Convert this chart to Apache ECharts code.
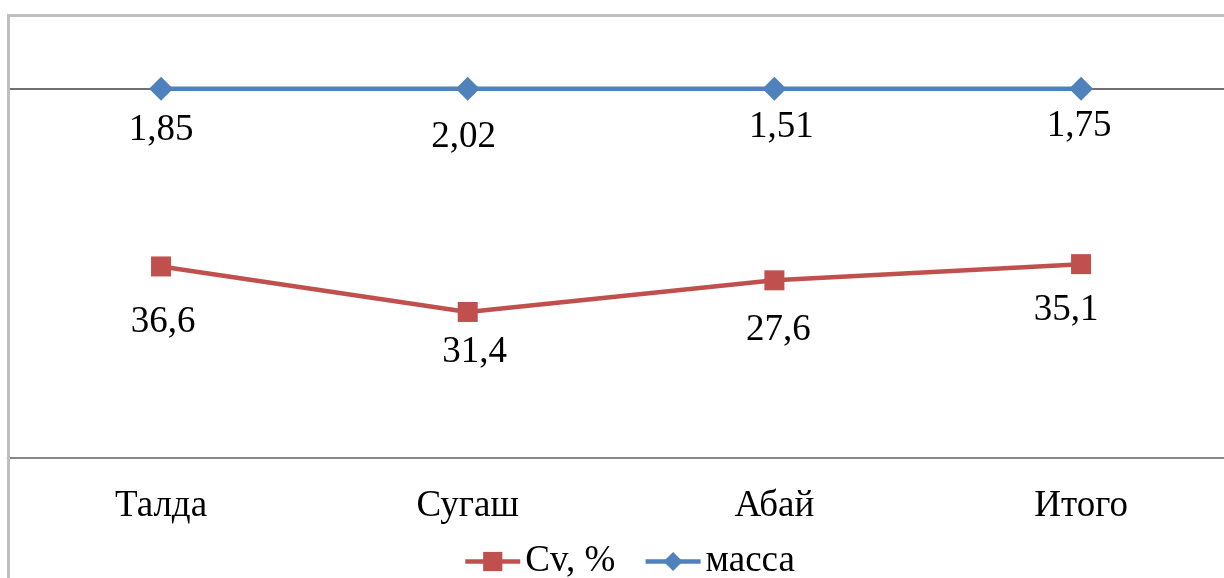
<!DOCTYPE html>
<html>
<head>
<meta charset="utf-8">
<script src="https://cdn.jsdelivr.net/npm/echarts@6/dist/echarts.min.js"></script>
<style>
  html, body { margin: 0; padding: 0; background: #fff; }
  #chart { width: 1224px; height: 578px; }
</style>
</head>
<body>
<div id="chart"></div>
<script>
// Districts and measured values
const categories = ['Талда', 'Сугаш', 'Абай', 'Итого'];
const cvValues = [36.6, 31.4, 27.6, 35.1];     // Cv, %
const massValues = [1.85, 2.02, 1.51, 1.75];   // масса

// Label nudges (dx, dy from the marker) for each point
const cvLabelOffsets = [[2, 56], [7, 40], [4, 50], [-15, 46]];
const massLabelOffsets = [[0, 41], [-4, 48], [7, 38], [-2, 37]];

// 100% stacked line: each series is plotted as its share of the column total
const totals = cvValues.map((v, i) => v + massValues[i]);
const cvShare = cvValues.map((v, i) => v / totals[i] * 100);
const massShare = massValues.map((v, i) => (cvValues[i] + v) / totals[i] * 100);

const fmt = v => String(v).replace('.', ',');
const FONT = '"Liberation Serif", "Times New Roman", serif';

function points(shares, raws, offsets) {
  return shares.map((s, i) => ({
    value: s,
    raw: raws[i],
    label: { offset: offsets[i] }
  }));
}

const labelStyle = {
  show: true,
  position: 'inside',
  align: 'center',
  verticalAlign: 'middle',
  color: '#000',
  fontFamily: FONT,
  fontSize: 37,
  formatter: p => fmt(p.data.raw)
};

const chart = echarts.init(document.getElementById('chart'), null, { renderer: 'canvas' });
chart.setOption({
  animation: false,
  backgroundColor: '#fff',
  // The plot runs past the right edge of the canvas
  grid: {
    left: 7.7, top: 15, width: 1226.7, height: 443,
    containLabel: false, outerBoundsMode: 'none'
  },
  xAxis: {
    type: 'category',
    data: categories,
    boundaryGap: true,
    axisLine: { show: true, lineStyle: { color: '#868686', width: 2 } },
    axisTick: { show: false },
    axisLabel: { color: '#000', fontFamily: FONT, fontSize: 37, margin: 30 }
  },
  yAxis: {
    type: 'value',
    min: 90,
    max: 102,
    show: false,
    splitLine: { show: false }
  },
  legend: {
    left: 463,
    top: 543,
    padding: 0,
    itemWidth: 55,
    itemHeight: 24,
    itemGap: 28,
    lineStyle: { width: 4.5 },
    textStyle: { color: '#000', fontFamily: FONT, fontSize: 37 },
    data: ['Cv, %', 'масса']
  },
  graphic: [{
    type: 'rect',
    shape: { x: 8.5, y: 15.5, width: 1400, height: 800 },
    style: { fill: null, stroke: '#BFBFBF', lineWidth: 3 },
    silent: true,
    z: 100
  }],
  series: [
    {
      name: 'Cv, %',
      type: 'line',
      data: points(cvShare, cvValues, cvLabelOffsets),
      symbol: 'rect',
      symbolSize: 20,
      itemStyle: { color: '#C0504D' },
      lineStyle: { color: '#C0504D', width: 4.5 },
      label: labelStyle,
      z: 3
    },
    {
      name: 'масса',
      type: 'line',
      data: points(massShare, massValues, massLabelOffsets),
      symbol: 'diamond',
      symbolSize: 24,
      itemStyle: { color: '#4F81BD' },
      lineStyle: { color: '#4F81BD', width: 4.5 },
      label: labelStyle,
      markLine: {
        silent: true,
        symbol: 'none',
        label: { show: false },
        lineStyle: { color: '#404040', width: 1.5, type: 'solid' },
        data: [{ yAxis: 100 }],
        z: 1
      },
      z: 4
    }
  ]
});
</script>
</body>
</html>
